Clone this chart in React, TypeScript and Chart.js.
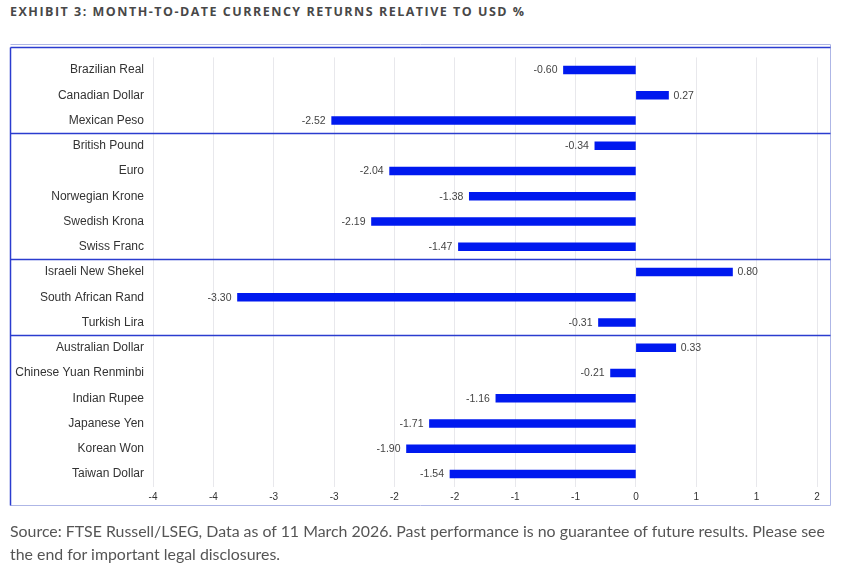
import React, { useEffect, useRef } from "react";
import { Chart, registerables } from "chart.js";

Chart.register(...registerables);

const categories = [
  "Brazilian Real",
  "Canadian Dollar",
  "Mexican Peso",
  "British Pound",
  "Euro",
  "Norwegian Krone",
  "Swedish Krona",
  "Swiss Franc",
  "Israeli New Shekel",
  "South African Rand",
  "Turkish Lira",
  "Australian Dollar",
  "Chinese Yuan Renminbi",
  "Indian Rupee",
  "Japanese Yen",
  "Korean Won",
  "Taiwan Dollar",
];

const returnsPct = [
  -0.6, 0.27, -2.52, -0.34, -2.04, -1.38, -2.19, -1.47, 0.8, -3.3, -0.31, 0.33,
  -0.21, -1.16, -1.71, -1.9, -1.54,
];

// index after which a group separator line is drawn
const groupBreaksAfter = [2, 7, 10];

const xTickLabels = ["-4", "-4", "-3", "-3", "-2", "-2", "-1", "-1", "0", "1", "1", "2"];

const BAR_BLUE = "#0019ef";
const DARK_LINE = "#2b3ccf";
const LIGHT_LINE = "#aeb6e6";

export default function App() {
  const ref = useRef<HTMLCanvasElement | null>(null);

  useEffect(() => {
    if (!ref.current) return;
    const decor = {
      id: "decor",
      afterDatasetsDraw(chart: any) {
        const ctx = chart.ctx;
        const ys = chart.scales.y;
        const xs = chart.scales.x;
        ctx.save();
        // value labels
        ctx.font = "10.5px 'Liberation Sans', Arial, sans-serif";
        ctx.fillStyle = "#444";
        ctx.textBaseline = "middle";
        returnsPct.forEach((v, i) => {
          const x = xs.getPixelForValue(v);
          const y = ys.getPixelForValue(i);
          const t = v.toFixed(2);
          if (v < 0) {
            ctx.textAlign = "right";
            ctx.fillText(t, x - 6, y + 0.5);
          } else {
            ctx.textAlign = "left";
            ctx.fillText(t, x + 5, y + 0.5);
          }
        });
        // frame
        const L = 10.5, R = 830.5, T = 44.5, B = 505.5;
        ctx.lineWidth = 1;
        ctx.strokeStyle = LIGHT_LINE;
        ctx.beginPath();
        ctx.moveTo(L, T);
        ctx.lineTo(R, T);
        ctx.lineTo(R, B);
        ctx.lineTo(L, B);
        ctx.stroke();
        ctx.strokeStyle = DARK_LINE;
        ctx.lineWidth = 1.5;
        ctx.beginPath();
        ctx.moveTo(L, 47.5);
        ctx.lineTo(R, 47.5);
        ctx.moveTo(L, 47.5);
        ctx.lineTo(L, B);
        ctx.stroke();
        // group separators
        groupBreaksAfter.forEach((i) => {
          const y = Math.round((ys.getPixelForValue(i) + ys.getPixelForValue(i + 1)) / 2) + 0.5;
          ctx.beginPath();
          ctx.moveTo(L, y);
          ctx.lineTo(R, y);
          ctx.stroke();
        });
        ctx.restore();
      },
    };

    const chart = new Chart(ref.current, {
      type: "bar",
      data: {
        labels: categories,
        datasets: [
          {
            data: returnsPct,
            backgroundColor: BAR_BLUE,
            borderWidth: 0,
            barThickness: 8,
          },
        ],
      },
      options: {
        indexAxis: "y",
        animation: false,
        responsive: false,
        devicePixelRatio: 1,
        layout: { padding: { left: 0, right: 37, top: 57.4, bottom: 13.4 } },
        plugins: { legend: { display: false }, tooltip: { enabled: false } },
        scales: {
          x: {
            min: -4,
            max: 1.5,
            ticks: {
              stepSize: 0.5,
              padding: 5,
              color: "#333",
              font: { family: "'Liberation Sans', Arial, sans-serif", size: 10 },
              callback: (_v: any, idx: number) => xTickLabels[idx],
            },
            grid: { color: "#e8e8ec", drawTicks: false },
            border: { display: false },
            afterFit: (s: any) => {
              s.height = 20;
            },
          },
          y: {
            ticks: {
              padding: 9,
              color: "#333",
              font: { family: "'Liberation Sans', Arial, sans-serif", size: 12 },
            },
            grid: { display: false, drawTicks: false },
            border: { display: false },
            afterFit: (s: any) => {
              s.width = 153;
            },
          },
        },
      },
      plugins: [decor],
    } as any);
    return () => chart.destroy();
  }, []);

  return (
    <div style={{ position: "absolute", left: 0, top: 0, width: 854, height: 572, background: "#fff", overflow: "hidden" }}>
      <div
        style={{
          position: "absolute",
          left: 10,
          top: 3,
          fontFamily: "'Open Sans', sans-serif",
          fontWeight: 700,
          fontSize: 12.5,
          letterSpacing: 1.5,
          color: "#484848",
          whiteSpace: "nowrap",
        }}
      >
        EXHIBIT 3: MONTH-TO-DATE CURRENCY RETURNS RELATIVE TO USD %
      </div>
      <canvas ref={ref} width={854} height={520} style={{ position: "absolute", left: 0, top: 0 }} />
      <div
        style={{
          position: "absolute",
          left: 10,
          top: 519,
          fontFamily: "Lato, sans-serif",
          fontSize: 15.9,
          lineHeight: "23px",
          color: "#555",
          whiteSpace: "nowrap",
        }}
      >
        Source: FTSE Russell/LSEG, Data as of 11 March 2026. Past performance is no guarantee of future results. Please see
        <br />
        the end for important legal disclosures.
      </div>
    </div>
  );
}
